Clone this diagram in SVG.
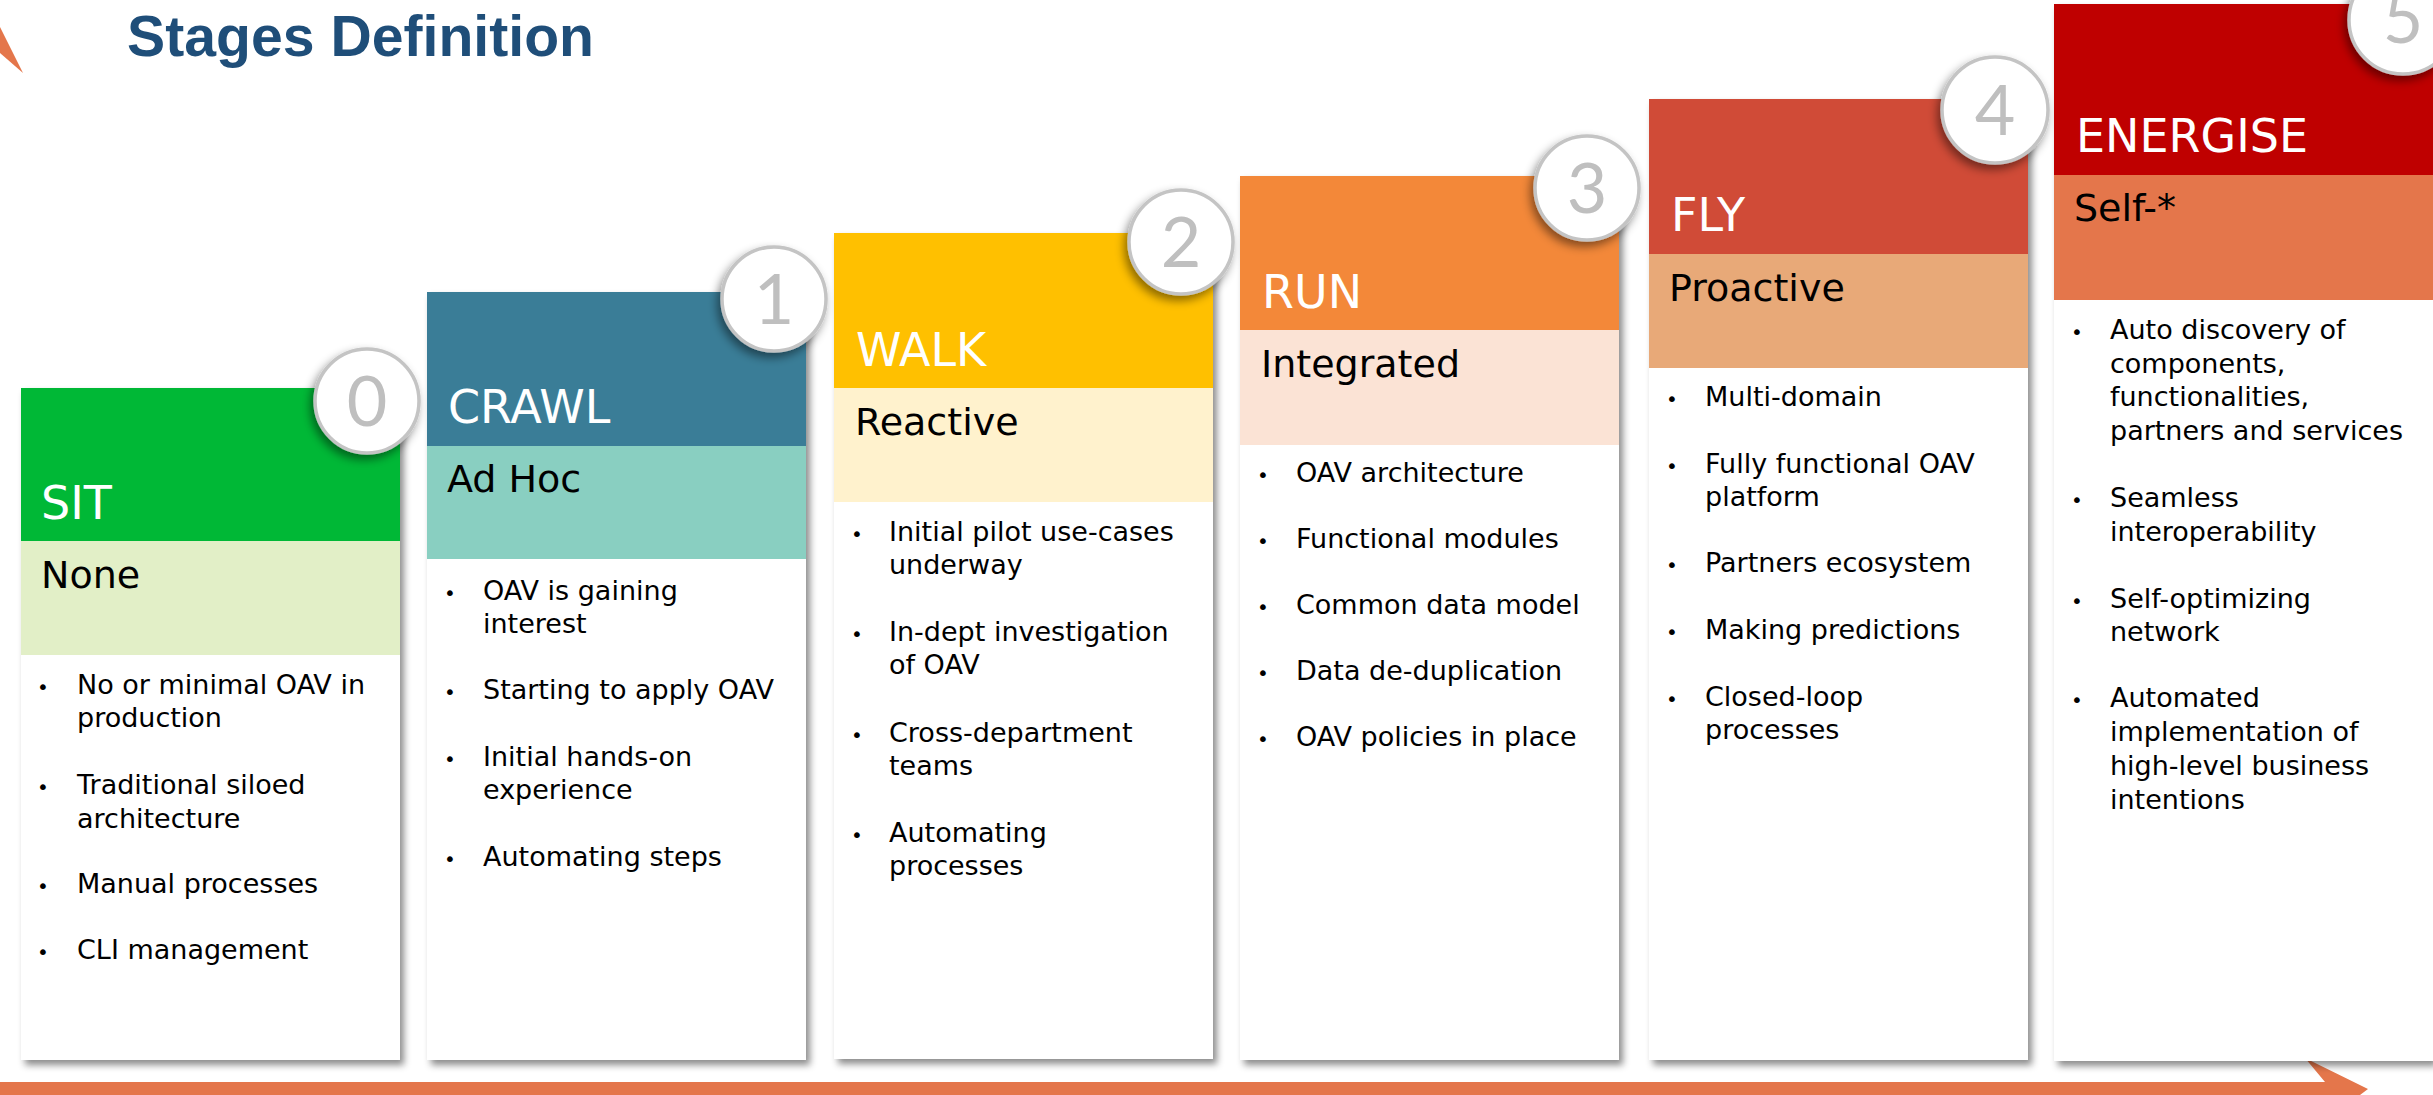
<svg xmlns="http://www.w3.org/2000/svg" width="2433" height="1095" viewBox="0 0 2433 1095">
<defs>
<filter id="cardShadow" x="-5%" y="-5%" width="115%" height="115%">
<feDropShadow dx="4" dy="5" stdDeviation="3.5" flood-color="#000" flood-opacity="0.45"/>
</filter>
<filter id="circShadow" x="-30%" y="-30%" width="160%" height="160%">
<feDropShadow dx="-3" dy="5" stdDeviation="5" flood-color="#000" flood-opacity="0.45"/>
</filter>
</defs>
<style>
.card{fill:#ffffff;filter:url(#cardShadow)}
.hd{font-family:"DejaVu Sans","Liberation Sans",sans-serif;font-size:46px;fill:#ffffff}
.sub{font-family:"DejaVu Sans","Liberation Sans",sans-serif;font-size:38px;fill:#000000}
.bl{font-family:"DejaVu Sans","Liberation Sans",sans-serif;font-size:27px;fill:#000000}
.dot{font-family:"DejaVu Sans",sans-serif;font-size:20px;fill:#000000;text-anchor:middle}
.circ{fill:#ffffff;stroke:#c4c4c4;stroke-width:3.5;filter:url(#circShadow)}
.num{font-family:"Lato","DejaVu Sans",sans-serif;font-weight:400;font-size:70px;fill:#bfbfbf;text-anchor:middle}
.title{font-family:"Liberation Sans",Arial,sans-serif;font-weight:bold;font-size:58px;fill:#1f4e79}
.arrow{fill:#e4764b}
</style>
<rect width="2433" height="1095" fill="#ffffff"/>
<g id="connectors">
<polygon class="arrow" points="0,27 23,73 0,53"/>
<polygon class="arrow" points="0,1082 2325,1082 2305,1058 2368,1089 2340,1110 0,1110"/>
</g>
<text class="title" x="127" y="56" textLength="467" lengthAdjust="spacingAndGlyphs">Stages Definition</text>

<g id="stage0">
<rect class="card" x="21" y="388" width="379" height="672"/>
<rect x="21" y="388" width="379" height="153" fill="#00b836"/>
<rect x="21" y="541" width="379" height="114" fill="#e2efc7"/>
<text class="hd" x="41" y="519">SIT</text>
<text class="sub" x="41" y="588">None</text>
<text class="dot" x="43" y="694">•</text><text class="bl" x="77" y="694">No or minimal OAV in</text>
<text class="bl" x="77" y="727">production</text>
<text class="dot" x="43" y="794">•</text><text class="bl" x="77" y="794">Traditional siloed</text>
<text class="bl" x="77" y="828">architecture</text>
<text class="dot" x="43" y="893">•</text><text class="bl" x="77" y="893">Manual processes</text>
<text class="dot" x="43" y="959">•</text><text class="bl" x="77" y="959">CLI management</text>
<circle class="circ" cx="367" cy="401" r="52"/>
<text class="num" x="367" y="426">0</text>
</g>

<g id="stage1">
<rect class="card" x="427" y="292" width="379" height="768"/>
<rect x="427" y="292" width="379" height="154" fill="#3a7d97"/>
<rect x="427" y="446" width="379" height="113" fill="#89cfc1"/>
<text class="hd" x="448" y="423">CRAWL</text>
<text class="sub" x="447" y="492">Ad Hoc</text>
<text class="dot" x="450" y="600">•</text><text class="bl" x="483" y="600">OAV is gaining</text>
<text class="bl" x="483" y="633">interest</text>
<text class="dot" x="450" y="699">•</text><text class="bl" x="483" y="699">Starting to apply OAV</text>
<text class="dot" x="450" y="766">•</text><text class="bl" x="483" y="766">Initial hands-on</text>
<text class="bl" x="483" y="799">experience</text>
<text class="dot" x="450" y="866">•</text><text class="bl" x="483" y="866">Automating steps</text>
<circle class="circ" cx="774" cy="299" r="52"/>
<text class="num" x="774" y="324">1</text>
</g>

<g id="stage2">
<rect class="card" x="834" y="233" width="379" height="826"/>
<rect x="834" y="233" width="379" height="155" fill="#ffc000"/>
<rect x="834" y="388" width="379" height="114" fill="#fff2cd"/>
<text class="hd" x="856" y="366">WALK</text>
<text class="sub" x="855" y="435">Reactive</text>
<text class="dot" x="857" y="541">•</text><text class="bl" x="889" y="541">Initial pilot use-cases</text>
<text class="bl" x="889" y="574">underway</text>
<text class="dot" x="857" y="641">•</text><text class="bl" x="889" y="641">In-dept investigation</text>
<text class="bl" x="889" y="674">of OAV</text>
<text class="dot" x="857" y="742">•</text><text class="bl" x="889" y="742">Cross-department</text>
<text class="bl" x="889" y="775">teams</text>
<text class="dot" x="857" y="842">•</text><text class="bl" x="889" y="842">Automating</text>
<text class="bl" x="889" y="875">processes</text>
<circle class="circ" cx="1181" cy="242" r="52"/>
<text class="num" x="1181" y="267">2</text>
</g>

<g id="stage3">
<rect class="card" x="1240" y="176" width="379" height="884"/>
<rect x="1240" y="176" width="379" height="154" fill="#f38839"/>
<rect x="1240" y="330" width="379" height="115" fill="#fbe3d5"/>
<text class="hd" x="1262" y="308">RUN</text>
<text class="sub" x="1261" y="377">Integrated</text>
<text class="dot" x="1263" y="482">•</text><text class="bl" x="1296" y="482">OAV architecture</text>
<text class="dot" x="1263" y="548">•</text><text class="bl" x="1296" y="548">Functional modules</text>
<text class="dot" x="1263" y="614">•</text><text class="bl" x="1296" y="614">Common data model</text>
<text class="dot" x="1263" y="680">•</text><text class="bl" x="1296" y="680">Data de-duplication</text>
<text class="dot" x="1263" y="746">•</text><text class="bl" x="1296" y="746">OAV policies in place</text>
<circle class="circ" cx="1587" cy="188" r="52"/>
<text class="num" x="1587" y="213">3</text>
</g>

<g id="stage4">
<rect class="card" x="1649" y="99" width="379" height="961"/>
<rect x="1649" y="99" width="379" height="155" fill="#d04b37"/>
<rect x="1649" y="254" width="379" height="114" fill="#e8a978"/>
<text class="hd" x="1671" y="231">FLY</text>
<text class="sub" x="1669" y="301">Proactive</text>
<text class="dot" x="1672" y="406">•</text><text class="bl" x="1705" y="406">Multi-domain</text>
<text class="dot" x="1672" y="473">•</text><text class="bl" x="1705" y="473">Fully functional OAV</text>
<text class="bl" x="1705" y="506">platform</text>
<text class="dot" x="1672" y="572">•</text><text class="bl" x="1705" y="572">Partners ecosystem</text>
<text class="dot" x="1672" y="639">•</text><text class="bl" x="1705" y="639">Making predictions</text>
<text class="dot" x="1672" y="706">•</text><text class="bl" x="1705" y="706">Closed-loop</text>
<text class="bl" x="1705" y="739">processes</text>
<circle class="circ" cx="1995" cy="110" r="53"/>
<text class="num" x="1995" y="135">4</text>
</g>

<g id="stage5">
<rect class="card" x="2054" y="4" width="379" height="1057"/>
<rect x="2054" y="4" width="379" height="171" fill="#bf0000"/>
<rect x="2054" y="175" width="379" height="125" fill="#e4764b"/>
<text class="hd" x="2076" y="152">ENERGISE</text>
<text class="sub" x="2074" y="221">Self-*</text>
<text class="dot" x="2077" y="339">•</text><text class="bl" x="2110" y="339">Auto discovery of</text>
<text class="bl" x="2110" y="373">components,</text>
<text class="bl" x="2110" y="406">functionalities,</text>
<text class="bl" x="2110" y="440">partners and services</text>
<text class="dot" x="2077" y="507">•</text><text class="bl" x="2110" y="507">Seamless</text>
<text class="bl" x="2110" y="541">interoperability</text>
<text class="dot" x="2077" y="608">•</text><text class="bl" x="2110" y="608">Self-optimizing</text>
<text class="bl" x="2110" y="641">network</text>
<text class="dot" x="2077" y="707">•</text><text class="bl" x="2110" y="707">Automated</text>
<text class="bl" x="2110" y="741">implementation of</text>
<text class="bl" x="2110" y="775">high-level business</text>
<text class="bl" x="2110" y="809">intentions</text>
<circle class="circ" cx="2403" cy="20" r="54"/>
<text class="num" x="2403" y="43">5</text>
</g>
</svg>
